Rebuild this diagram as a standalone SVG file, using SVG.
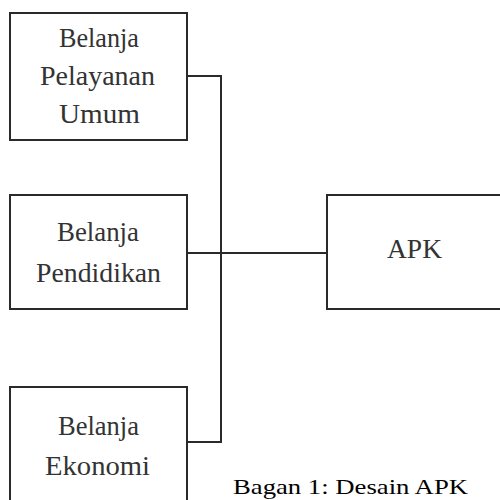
<svg xmlns="http://www.w3.org/2000/svg" width="500" height="500" viewBox="0 0 500 500">
<style>
.box{fill:#fff;stroke:#2a2a2a;stroke-width:2}
.lbl{font-family:"Liberation Serif",serif;font-size:28px;fill:#333;text-anchor:start}
.conn{fill:none;stroke:#2a2a2a;stroke-width:2}
.cap{font-family:"Liberation Serif",serif;font-size:22px;fill:#000}
</style>
<rect width="500" height="500" fill="#fff"/>
<g id="connectors">
<polyline class="conn" points="187,76 221,76 221,442 187,442"/>
<line class="conn" x1="187" y1="253" x2="327" y2="253"/>
</g>
<g id="node-pelayanan">
<rect class="box" x="10" y="13" width="177" height="127"/>
<text class="lbl" x="59" y="47" textLength="80" lengthAdjust="spacingAndGlyphs">Belanja</text>
<text class="lbl" x="40" y="85" textLength="115" lengthAdjust="spacingAndGlyphs">Pelayanan</text>
<text class="lbl" x="59" y="123" textLength="81" lengthAdjust="spacingAndGlyphs">Umum</text>
</g>
<g id="node-pendidikan">
<rect class="box" x="10" y="195" width="177" height="114"/>
<text class="lbl" x="57" y="241" textLength="82" lengthAdjust="spacingAndGlyphs">Belanja</text>
<text class="lbl" x="36" y="282" textLength="125" lengthAdjust="spacingAndGlyphs">Pendidikan</text>
</g>
<g id="node-ekonomi">
<rect class="box" x="10" y="387" width="177" height="130"/>
<text class="lbl" x="58" y="435" textLength="81" lengthAdjust="spacingAndGlyphs">Belanja</text>
<text class="lbl" x="45" y="475" textLength="105" lengthAdjust="spacingAndGlyphs">Ekonomi</text>
</g>
<g id="node-apk">
<rect class="box" x="327" y="195" width="190" height="114"/>
<text class="lbl" x="387" y="258" textLength="55" lengthAdjust="spacingAndGlyphs">APK</text>
</g>
<text class="cap" x="233" y="494" textLength="235" lengthAdjust="spacingAndGlyphs">Bagan 1: Desain APK</text>
</svg>
